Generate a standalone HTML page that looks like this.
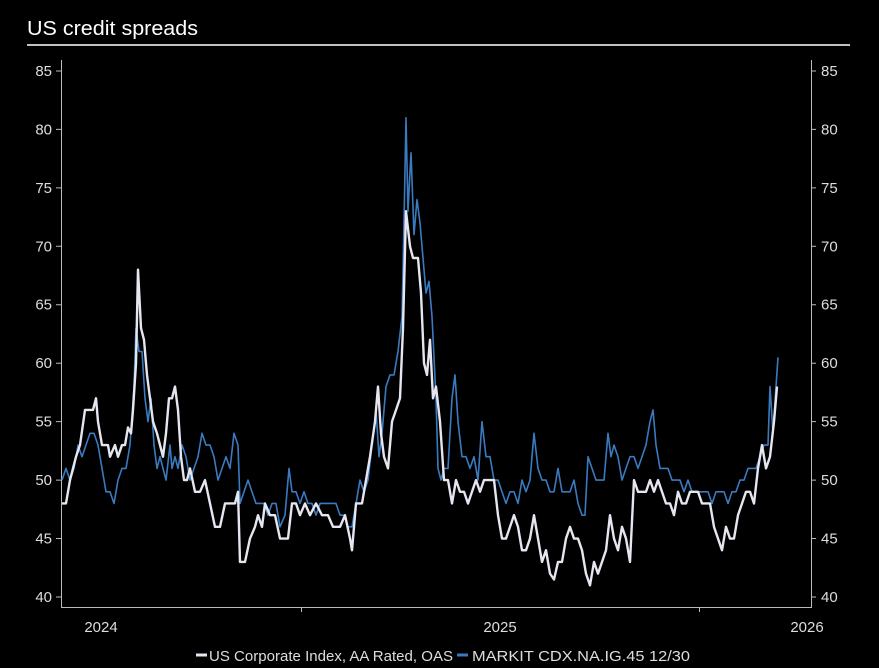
<!DOCTYPE html>
<html><head><meta charset="utf-8"><style>
html,body{margin:0;padding:0;background:#000;}
svg{display:block;font-family:"Liberation Sans",sans-serif;}
</style></head><body>
<svg width="879" height="668" viewBox="0 0 879 668" xmlns="http://www.w3.org/2000/svg">
<rect width="879" height="668" fill="#000"/>
<text x="27" y="35" fill="#fff" font-size="20" textLength="171" lengthAdjust="spacingAndGlyphs">US credit spreads</text>
<line x1="27" y1="45" x2="850" y2="45" stroke="#fff" stroke-width="1.5"/>
<g stroke="#bbb" stroke-width="1" fill="none">
<line x1="61.5" y1="60" x2="61.5" y2="607"/>
<line x1="811.5" y1="60" x2="811.5" y2="607"/>
<line x1="61" y1="607.5" x2="812" y2="607.5"/>
<line x1="301.5" y1="607" x2="301.5" y2="612"/>
<line x1="699.5" y1="607" x2="699.5" y2="612"/>
<path d="M56 597H61M56 538.55H61M56 480.1H61M56 421.65H61M56 363.2H61M56 304.75H61M56 246.3H61M56 187.85H61M56 129.4H61M56 70.95H61M811 597H816M811 538.55H816M811 480.1H816M811 421.65H816M811 363.2H816M811 304.75H816M811 246.3H816M811 187.85H816M811 129.4H816M811 70.95H816"/>
</g>
<g fill="#ddd" font-size="15" text-anchor="end">
<text x="52" y="602">40</text><text x="52" y="543.5">45</text><text x="52" y="485">50</text><text x="52" y="426.6">55</text><text x="52" y="368.2">60</text><text x="52" y="309.7">65</text><text x="52" y="251.3">70</text><text x="52" y="192.8">75</text><text x="52" y="134.4">80</text><text x="52" y="76">85</text>
</g>
<g fill="#ddd" font-size="15">
<text x="821" y="602">40</text><text x="821" y="543.5">45</text><text x="821" y="485">50</text><text x="821" y="426.6">55</text><text x="821" y="368.2">60</text><text x="821" y="309.7">65</text><text x="821" y="251.3">70</text><text x="821" y="192.8">75</text><text x="821" y="134.4">80</text><text x="821" y="76">85</text>
</g>
<text x="101" y="632" fill="#ddd" font-size="15" text-anchor="middle">2024</text>
<text x="500" y="632" fill="#ddd" font-size="15" text-anchor="middle">2025</text>
<text x="807" y="632" fill="#ddd" font-size="15" text-anchor="middle">2026</text>
<g transform="matrix(1,0,0,-11.69,0,1064.6)">
<polyline vector-effect="non-scaling-stroke" fill="none" stroke="#3a7bc0" stroke-width="1.6" stroke-linejoin="round" points="62,50 66,51 70,50 74,51 78,53 82,52 86,53 90,54 94,54 98,53 102,51 106,49 110,49 114,48 118,50 122,51 126,51 130,53 134,58 136,63 139,61 142,61 145,57 148,55 151,57 154,53 157,51 160,52 163,51 166,50 170,53 172,51 175,52 178,51 182,53 186,52 190,50 194,51 198,52 202,54 206,53 210,53 214,52 218,50 222,51 226,52 230,51 234,54 238,53 240,48 244,49 248,50 252,49 256,48 260,48 264,48 268,47 272,48 276,48 280,46 285,47 289,51 292,49 296,49 300,48 304,49 308,48 312,48 316,47 320,48 324,48 328,48 332,48 336,48 340,47 344,47 348,46 352,46 356,48 360,50 364,49 368,50 372,53 376,56 379,52 382,54 386,58 390,59 394,59 398,61 402,64 404,72 406,81 408,73 411,78 414,71 417,74 420,72 423,69 426,66 429,67 432,64 436,57 438,51 441,50 444,51 448,51 452,57 455,59 458,55 462,52 466,52 470,51 474,52 478,50 482,55 486,52 490,52 494,50 498,50 502,49 506,48 510,49 514,49 518,48 522,50 526,49 530,50 534,54 538,51 542,50 546,50 550,49 554,49 558,51 562,49 566,49 570,49 574,50 578,48 582,47 585,47 588,52 592,51 596,50 600,50 604,50 608,54 611,52 614,53 618,52 622,50 626,51 630,52 634,52 638,51 642,52 646,53 650,55 653,56 656,53 660,51 664,51 668,51 672,50 676,50 680,50 684,49 688,50 692,49 696,49 700,49 704,49 708,49 712,48 716,49 720,49 724,49 728,48 732,49 736,49 740,50 744,50 748,51 752,51 756,51 760,52 764,53 768,53 770,58 773,54 776,58 778,60.5"/>
<polyline vector-effect="non-scaling-stroke" fill="none" stroke="#e6e6f0" stroke-width="2.4" stroke-linejoin="round" points="62,48 66,48 70,50 76,52 80,53 85,56 93,56 96,57 98,55 102,53 108,53 110,52 115,53 118,52 122,53 125,53 128,54.5 131,54 133,56 136,60 138,68 141,63 144,62 147,59 150,57 153,55 157,54 160,53 163,52 166,54 169,57 172,57 175,58 178,56 181,52 184,50 187,50 190,51 195,49 200,49 205,50 210,48 215,46 220,46 225,48 230,48 235,48 238,49 240,43 245,43 250,45 255,46 258,47 262,46 265,48 270,47 275,47 280,45 288,45 292,48 296,48 300,47 305,48 310,47 316,48 322,47 328,47 333,46 340,46 345,47 350,45 352,44 356,48 362,48 366,50 370,52 375,55 378,58 381,54 384,52 388,51 392,55 396,56 400,57 403,63 406,73 410,70 413,69 418,69 421,66 424,60 427,59 430,62 433,57 436,58 440,55 444,50 448,50 452,48 456,50 460,49 464,49 468,48 472,49 476,50 480,49 484,50 490,50 494,50 498,47 502,45 506,45 510,46 514,47 518,46 522,44 526,44 530,45 534,47 538,45 542,43 546,44 550,42 554,41.5 558,43 562,43 566,45 570,46 574,45 578,45 582,44 586,42 590,41 594,43 598,42 602,43 606,44 610,47 614,45 618,44 622,46 626,45 630,43 634,50 638,49 642,49 646,49 650,50 654,49 658,50 662,49 666,48 670,48 674,47 678,49 682,48 686,48 690,49 694,49 698,49 702,48 706,48 710,48 714,46 718,45 722,44 726,46 730,45 734,45 738,47 742,48 746,49 750,49 754,48 758,51 762,53 766,51 770,52 774,55 777,58"/>
</g>
<g font-size="15" fill="#ddd">
<line x1="196" y1="655" x2="207" y2="655" stroke="#e6e6f0" stroke-width="3"/>
<text x="209" y="661" textLength="244" lengthAdjust="spacingAndGlyphs">US Corporate Index, AA Rated, OAS</text>
<line x1="457" y1="655" x2="468" y2="655" stroke="#3a7bc0" stroke-width="3"/>
<text x="472" y="661" textLength="218" lengthAdjust="spacingAndGlyphs">MARKIT CDX.NA.IG.45 12/30</text>
</g>
</svg>
</body></html>
